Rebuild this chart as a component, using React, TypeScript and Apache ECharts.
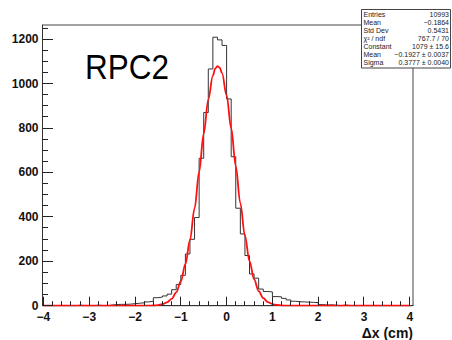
import React, { useEffect, useRef } from 'react';
import * as echarts from 'echarts';

// Histogram: 80 bins of width 0.1 from -4 to 4
const binStart = -4;
const binWidth = 0.1;
const counts = [
  0, 0, 0, 0, 0, 0, 0, 2, 1, 0,
  0, 2, 1, 0, 3, 5, 6, 6, 7, 9,
  11, 13, 17, 20, 36, 39, 44, 52, 72, 95,
  137, 233, 299, 397, 664, 870, 1066, 1209, 1197, 1172,
  931, 671, 439, 323, 226, 143, 124, 75, 64, 62,
  41, 40, 33, 26, 20, 18, 17, 16, 15, 14,
  5, 3, 4, 2, 0, 3, 1, 0, 0, 1,
  0, 0, 0, 0, 0, 0, 0, 0, 0, 0,
];

// Gaussian fit curve (red)
const fitX = [
  -4, -1.8, -1.7, -1.6, -1.5, -1.4, -1.3, -1.2, -1.1, -1.0, -0.9, -0.8, -0.7, -0.6,
  -0.5, -0.4, -0.3, -0.25, -0.2, -0.15, -0.1, 0, 0.1, 0.2, 0.3, 0.4, 0.5, 0.6, 0.7,
  0.8, 0.9, 1.0, 1.1, 1.2, 1.3, 1.4, 4,
];
const fitY = [
  0, 0.1, 0.4, 1.0, 2.7, 6.5, 14.7, 31, 60, 110, 187, 296, 438, 603,
  775, 928, 1036, 1067, 1079, 1072, 1047, 947, 799, 628, 461, 315, 201, 119, 66,
  34, 16.4, 7.4, 3.1, 1.1, 0.4, 0.1, 0,
];

const xTickValues = [-4, -3, -2, -1, 0, 1, 2, 3, 4];
const yTickValues = [0, 200, 400, 600, 800, 1000, 1200];

const statLabels = ['Entries', 'Mean', 'Std Dev', 'χ² / ndf', 'Constant', 'Mean', 'Sigma'];
const statValues = ['10993', '\u22120.1864', '0.5431', '767.7 / 70', '1079 ± 15.6', '\u22120.1927 ± 0.0037', '0.3777 ± 0.0040'];

const chartLabel = 'RPC2';
const xTitle = 'Δx (cm)';

export default function App() {
  const ref = useRef<HTMLDivElement>(null);

  useEffect(() => {
    const chart = echarts.init(ref.current as HTMLDivElement, null, { renderer: 'svg' });

    const hist: number[][] = counts.map((c, i) => [binStart + i * binWidth, c]);
    hist.push([binStart + counts.length * binWidth, counts[counts.length - 1]]);
    const fit = fitX.map((x, i) => [x, fitY[i]]);

    const font = '"Liberation Sans", Arial, sans-serif';
    const tickColor = '#222';
    const xMin = -4.02, xMax = 4.07, yMax = 1264;

    // tick positions (axis decoration)
    const xTicks: number[][] = [];
    for (let k = -40; k <= 40; k += 2) xTicks.push([k / 10, 0]);
    const yTicks: number[][] = [];
    for (let v = 0; v <= 1250; v += 50) yTicks.push([xMin, v]);

    const graphics: any[] = [
      {
        type: 'rect', z: 100,
        shape: { x: 361.5, y: 9.5, width: 89, height: 58.5 },
        style: { fill: '#fff', stroke: '#444', lineWidth: 1 },
      },
      {
        type: 'text', z: 100, x: 85, y: 67, scaleX: 0.9,
        style: { text: chartLabel, font: `35px ${font}`, fill: '#000', verticalAlign: 'middle', align: 'left' },
      },
      {
        type: 'text', z: 100, x: 413, y: 332.5,
        style: { text: xTitle, font: `bold 14px ${font}`, fill: '#111', verticalAlign: 'middle', align: 'right' },
      },
    ];
    statLabels.forEach((lab, i) => {
      const y = 14.5 + i * 8;
      graphics.push({
        type: 'text', z: 101, x: 363.5, y,
        style: { text: lab, font: `7px ${font}`, fill: '#222', verticalAlign: 'middle', align: 'left' },
      });
      graphics.push({
        type: 'text', z: 101, x: 449, y,
        style: { text: statValues[i], font: `7px ${font}`, fill: '#222', verticalAlign: 'middle', align: 'right' },
      });
    });

    chart.setOption({
      animation: false,
      backgroundColor: '#fff',
      grid: {
        left: 42.5, right: 39, top: 25, bottom: 34.3,
        show: true, borderColor: '#444', borderWidth: 1, backgroundColor: 'transparent',
      },
      xAxis: {
        type: 'value', min: xMin, max: xMax,
        axisLine: { show: true, onZero: false, lineStyle: { color: '#333', width: 1 } },
        axisTick: { show: false },
        axisLabel: {
          show: true, customValues: xTickValues, margin: 5,
          fontFamily: font, fontWeight: 'bold', fontSize: 12, color: '#111',
          formatter: (v: number) => (v < 0 ? '\u2212' + Math.abs(v) : String(v)),
        },
        splitLine: { show: false },
      },
      yAxis: {
        type: 'value', min: 0, max: yMax,
        axisLine: { show: true, onZero: false, lineStyle: { color: '#333', width: 1 } },
        axisTick: { show: false },
        axisLabel: {
          show: true, customValues: yTickValues, margin: 4,
          fontFamily: font, fontWeight: 'bold', fontSize: 12, color: '#111',
          formatter: (v: number) => String(v),
        },
        splitLine: { show: false },
      },
      series: [
        {
          type: 'custom', data: xTicks, clip: false, z: 5,
          renderItem: (params: any, api: any) => {
            const xv = api.value(0);
            const p = api.coord([xv, api.value(1)]);
            const major = Math.abs(xv - Math.round(xv)) < 1e-6;
            const len = major ? 9 : 4.5;
            const px = Math.round(p[0] - 0.5) + 0.5;
            return {
              type: 'line',
              shape: { x1: px, y1: p[1], x2: px, y2: p[1] - len },
              style: { stroke: tickColor, lineWidth: 1 },
            };
          },
        },
        {
          type: 'custom', data: yTicks, clip: false, z: 5,
          renderItem: (params: any, api: any) => {
            const yv = api.value(1);
            const p = api.coord([api.value(0), yv]);
            const major = Math.round(yv) % 200 === 0;
            const len = major ? 10.5 : 5.5;
            const py = Math.round(p[1] - 0.5) + 0.5;
            return {
              type: 'line',
              shape: { x1: p[0], y1: py, x2: p[0] + len, y2: py },
              style: { stroke: tickColor, lineWidth: 1 },
            };
          },
        },
        {
          type: 'line', name: 'hist', data: hist, step: 'end', symbol: 'none',
          lineStyle: { color: '#333', width: 1 }, z: 2,
        },
        {
          type: 'line', name: 'fit', data: fit, smooth: 0.35, smoothMonotone: 'x', symbol: 'none',
          lineStyle: { color: '#ff1010', width: 1.8 }, z: 3,
        },
      ],
      graphic: graphics,
    });

    return () => chart.dispose();
  }, []);

  return (
    <div
      ref={ref}
      style={{ position: 'fixed', left: 0, top: 0, width: 452, height: 340, background: '#fff' }}
    />
  );
}
